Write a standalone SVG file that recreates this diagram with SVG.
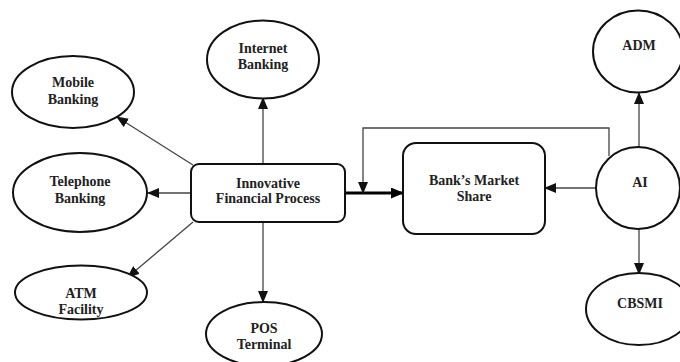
<svg xmlns="http://www.w3.org/2000/svg" width="680" height="362" viewBox="0 0 680 362">
  <defs>
    <marker id="arrow" markerUnits="userSpaceOnUse" markerWidth="12" markerHeight="10" refX="11" refY="5" orient="auto">
      <path d="M0,0 L12,5 L0,10 Z" fill="#111"/>
    </marker>
    <marker id="arrow-bold" markerUnits="userSpaceOnUse" markerWidth="13" markerHeight="11" refX="12" refY="5.5" orient="auto">
      <path d="M0,0 L13,5.5 L0,11 Z" fill="#000"/>
    </marker>
  </defs>
  <style>
    .node { fill: #fff; stroke: #111; stroke-width: 2; }
    .label { font-family: "Liberation Serif", "Times New Roman", serif; font-weight: bold; font-size: 14px; fill: #222; text-anchor: middle; }
    .link { fill: none; stroke: #444; stroke-width: 1.3; marker-end: url(#arrow); }
    .link-bold { fill: none; stroke: #000; stroke-width: 3; marker-end: url(#arrow-bold); }
  </style>

  <rect width="680" height="362" fill="#fff"/>

  <!-- connectors -->
  <g id="connectors">
    <line class="link" x1="263" y1="164" x2="263" y2="98"/>
    <line class="link" x1="193" y1="165" x2="117" y2="117"/>
    <line class="link" x1="191" y1="193" x2="148" y2="193"/>
    <line class="link" x1="193" y1="222" x2="128" y2="277"/>
    <line class="link" x1="263" y1="222" x2="263" y2="302"/>
    <line class="link-bold" x1="345" y1="193" x2="403" y2="193"/>
    <polyline class="link" points="609,156 609,128 363,128 363,193"/>
    <line class="link" x1="596" y1="188" x2="545" y2="188"/>
    <line class="link" x1="639" y1="147" x2="639" y2="93"/>
    <line class="link" x1="639" y1="229" x2="639" y2="274"/>
  </g>

  <g id="internet-banking">
    <ellipse class="node" cx="263" cy="59.5" rx="56" ry="39"/>
    <text class="label" x="263" y="53">Internet</text>
    <text class="label" x="263" y="69">Banking</text>
  </g>

  <g id="mobile-banking">
    <ellipse class="node" cx="73" cy="92" rx="61" ry="36"/>
    <text class="label" x="73" y="87">Mobile</text>
    <text class="label" x="73" y="104">Banking</text>
  </g>

  <g id="telephone-banking">
    <ellipse class="node" cx="80" cy="192.5" rx="67" ry="39.5"/>
    <text class="label" x="80" y="186">Telephone</text>
    <text class="label" x="80" y="203">Banking</text>
  </g>

  <g id="innovative-financial-process">
    <rect class="node" x="191" y="164" width="154" height="58" rx="8"/>
    <text class="label" x="268" y="188">Innovative</text>
    <text class="label" x="268" y="203">Financial Process</text>
  </g>

  <g id="atm-facility">
    <ellipse class="node" cx="81" cy="292.5" rx="66" ry="27"/>
    <text class="label" x="81" y="298">ATM</text>
    <text class="label" x="81" y="314">Facility</text>
  </g>

  <g id="pos-terminal">
    <ellipse class="node" cx="264" cy="334" rx="58" ry="32"/>
    <text class="label" x="264" y="333">POS</text>
    <text class="label" x="264" y="349">Terminal</text>
  </g>

  <g id="banks-market-share">
    <rect class="node" x="403" y="143" width="142" height="91" rx="13"/>
    <text class="label" x="474" y="185">Bank’s Market</text>
    <text class="label" x="474" y="201">Share</text>
  </g>

  <g id="ai">
    <ellipse class="node" cx="638" cy="188" rx="42" ry="41"/>
    <text class="label" x="640" y="187">AI</text>
  </g>

  <g id="adm">
    <ellipse class="node" cx="638" cy="51.5" rx="45" ry="41"/>
    <text class="label" x="639" y="50">ADM</text>
  </g>

  <g id="cbsmi">
    <ellipse class="node" cx="639" cy="309" rx="53" ry="36"/>
    <text class="label" x="640" y="308">CBSMI</text>
  </g>
</svg>
